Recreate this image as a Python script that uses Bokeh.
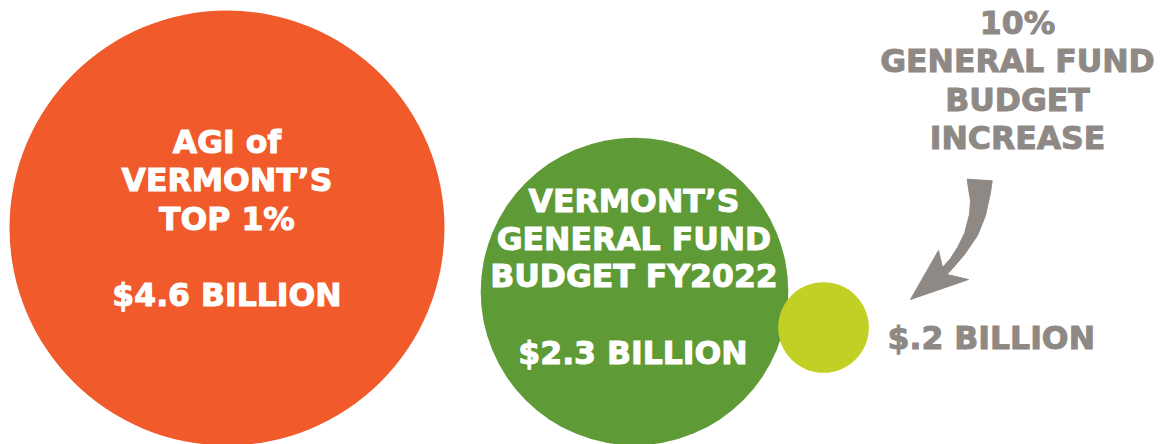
import numpy as np
from bokeh.plotting import figure
from bokeh.models import Range1d, ColumnDataSource
from bokeh.core.properties import value
from bokeh.embed import file_html
from bokeh.resources import INLINE

# ---------------- data ----------------
categories = ["AGI of Vermont's top 1%",
              "Vermont's General Fund budget FY2022",
              "10% General Fund budget increase"]
values_billion = [4.6, 2.3, 0.2]
value_labels = ["$4.6 BILLION", "$2.3 BILLION", "$.2 BILLION"]
title_lines = [["AGI of", "VERMONT\u2019S", "TOP 1%"],
               ["VERMONT\u2019S", "GENERAL FUND", "BUDGET FY2022"],
               ["10%", "GENERAL FUND", "BUDGET", "INCREASE"]]

# ---------------- layout / style ----------------
W, H = 1161, 444
FONT = "DejaVu Sans"
FSIZE = "31.5px"
TEXT_SHIFT = 13  # compensates the renderer's baseline offset
fill_colors = ["#F15A2B", "#5E9A35", "#C0D024"]
text_colors = ["#FFFFFF", "#FFFFFF", "#8F8986"]
GRAY = "#8F8986"

def dx(x):  # page pixel -> data x
    return x

def dy(y):  # page pixel -> data y
    return H - y

circle_cx = [226.5, 634.0, 823.0]
circle_cy = [227.5, 291.0, 327.0]
R_MAX = 217.5
radii = [R_MAX * np.sqrt(v / max(values_billion)) for v in values_billion]

title_cx = [226.5, 633.5, 1017.0]
title_baselines = [[154, 192, 231], [213, 251, 288], [35, 73, 112, 150]]
value_pos = [(226.5, 307, "center"), (632.5, 365, "center"), (887, 350, "left")]

arrow_shape = [(966.7, 178.7), (991.7, 180.3), (990, 192), (985, 215), (977, 235),
               (964, 254), (952, 268), (946.5, 274), (968, 279), (910, 299),
               (938, 250), (942, 267), (950, 258), (957, 247), (964, 233),
               (969, 214), (970, 200), (968, 188)]

# ---------------- figure ----------------
p = figure(width=W, height=H, output_backend="svg", toolbar_location=None,
           x_range=Range1d(0, W), y_range=Range1d(0, H),
           x_axis_type=None, y_axis_type=None, min_border=0)
p.outline_line_color = None
p.grid.visible = False
p.background_fill_color = "white"
p.border_fill_color = "white"

circ = ColumnDataSource(dict(
    x=[dx(v) for v in circle_cx], y=[dy(v) for v in circle_cy],
    r=radii, color=fill_colors, name=categories, val=values_billion))
p.circle(x="x", y="y", radius="r", radius_dimension="x", fill_color="color",
         line_color=None, source=circ)

# titles
tx, ty, tt, tc = [], [], [], []
for i, lines in enumerate(title_lines):
    for line, base in zip(lines, title_baselines[i]):
        tx.append(dx(title_cx[i]))
        ty.append(dy(base) + TEXT_SHIFT)
        tt.append(line)
        tc.append(text_colors[i])
p.text(x="x", y="y", text="t", text_color="c",
       text_outline_color="c",
       source=ColumnDataSource(dict(x=tx, y=ty, t=tt, c=tc)),
       text_font=value(FONT), text_font_style="bold", text_font_size=FSIZE,
       text_align="center", text_baseline="alphabetic")

# value labels
for i, (vx, vy, al) in enumerate(value_pos):
    p.text(x=[dx(vx)], y=[dy(vy) + TEXT_SHIFT], text=[value_labels[i]],
           text_color=text_colors[i], text_outline_color=text_colors[i],
           text_font=value(FONT),
           text_font_style="bold", text_font_size=FSIZE,
           text_align=al, text_baseline="alphabetic")

# curved arrow (decoration)
p.patch(x=[dx(a) for a, b in arrow_shape], y=[dy(b) for a, b in arrow_shape],
        fill_color=GRAY, line_color=GRAY, line_width=1, line_join="round")

open("out.html", "w").write(file_html(p, INLINE))
